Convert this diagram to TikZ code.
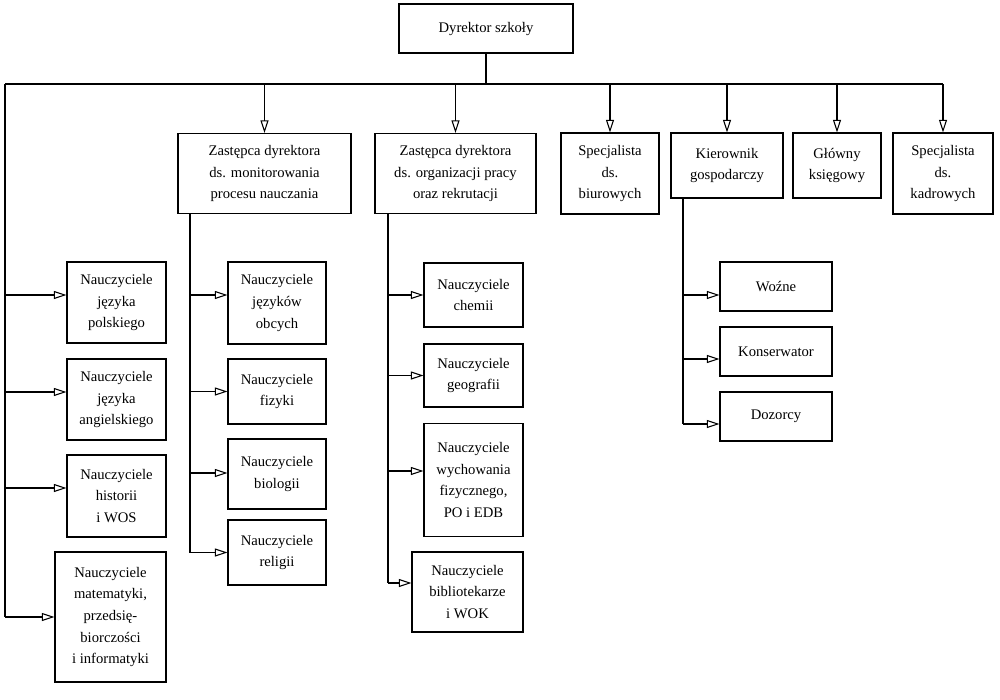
\documentclass[tikz,border=0pt]{standalone}
\usepackage{fontspec}
\setmainfont{Liberation Serif}
\usetikzlibrary{arrows.meta}

\begin{document}
\begin{tikzpicture}[x=0.03cm,y=-0.03cm,
	box/.style={draw, line width=0.9pt, align=center, inner sep=2pt,
		font=\fontsize{12.5}{18.5}\selectfont},
	arr/.style={-{Triangle[open,length=0.38cm,width=0.24cm]}, line width=0.9pt},
	ln/.style={line width=0.9pt}]
	  \useasboundingbox (0,0) rectangle (1000,700);

	  \node[box, minimum width=5.22cm, minimum height=1.47cm] (dyr) at (486,28.5) {Dyrektor szkoły};

	  \node[box, minimum width=5.19cm, minimum height=2.4cm] (z1) at (264.5,173.5) {Zastępca dyrektora\\ds. monitorowania\\procesu nauczania};
	  \node[box, minimum width=4.83cm, minimum height=2.4cm] (z2) at (455.5,173.5) {Zastępca dyrektora\\ds. organizacji pracy\\oraz rekrutacji};
	  \node[box, minimum width=2.94cm, minimum height=2.43cm] (sb) at (610,173.5) {Specjalista\\ds.\\biurowych};
	  \node[box, minimum width=3.36cm, minimum height=1.95cm] (kg) at (727,165.5) {Kierownik\\gospodarczy};
	  \node[box, minimum width=2.64cm, minimum height=1.95cm] (gk) at (837,165.5) {Główny\\księgowy};
	  \node[box, minimum width=3.0cm, minimum height=2.43cm] (sk) at (943,173.5) {Specjalista\\ds.\\kadrowych};

	  \node[box, minimum width=2.97cm, minimum height=2.43cm] (pol) at (116.5,302.5) {Nauczyciele\\języka\\polskiego};
	  \node[box, minimum width=2.97cm, minimum height=2.43cm] (ang) at (116.5,399.5) {Nauczyciele\\języka\\angielskiego};
	  \node[box, minimum width=2.97cm, minimum height=2.46cm] (his) at (116.5,496) {Nauczyciele\\historii\\i WOS};
	  \node[box, minimum width=3.33cm, minimum height=3.9cm] (mat) at (110.5,617) {Nauczyciele\\matematyki,\\przedsię-\\biorczości\\i informatyki};

	  \node[box, minimum width=2.94cm, minimum height=2.46cm] (obc) at (277,303) {Nauczyciele\\języków\\obcych};
	  \node[box, minimum width=2.94cm, minimum height=1.95cm] (fiz) at (277,391.5) {Nauczyciele\\fizyki};
	  \node[box, minimum width=2.94cm, minimum height=2.1cm] (bio) at (277,474) {Nauczyciele\\biologii};
	  \node[box, minimum width=2.94cm, minimum height=1.95cm] (rel) at (277,552.5) {Nauczyciele\\religii};

	  \node[box, minimum width=2.97cm, minimum height=1.92cm] (che) at (473.5,295) {Nauczyciele\\chemii};
	  \node[box, minimum width=2.97cm, minimum height=1.89cm] (geo) at (473.5,375.5) {Nauczyciele\\geografii};
	  \node[box, minimum width=2.97cm, minimum height=3.39cm] (wf) at (473.5,480) {Nauczyciele\\wychowania\\fizycznego,\\PO i EDB};
	  \node[box, minimum width=3.33cm, minimum height=2.4cm] (bib) at (467.5,592) {Nauczyciele\\bibliotekarze\\i WOK};

	  \node[box, minimum width=3.36cm, minimum height=1.47cm] (woz) at (776,286.5) {Woźne};
	  \node[box, minimum width=3.36cm, minimum height=1.47cm] (kon) at (776,351.5) {Konserwator};
	  \node[box, minimum width=3.36cm, minimum height=1.47cm] (doz) at (776,416.5) {Dozorcy};

	  \coordinate (busL) at (5,84);
	  \coordinate (busR) at (943,84);
	  \coordinate (t1) at (190,0);
	  \coordinate (t2) at (388,0);
	  \coordinate (t3) at (683,0);

	  \draw[ln] (dyr.south) -- (dyr.south |- busL);
	  \draw[ln] (busL) -- (busR);
	  \draw[ln] (busL) -- (busL |- mat);
	  \foreach \n in {z1,z2,sb,kg,gk,sk} \draw[arr] (busL -| \n.north) -- (\n.north);
	  \foreach \n/\d in {pol/7.5,ang/7.5,his/8,mat/0}
	    \draw[arr] ([yshift=\d*0.03cm]busL |- \n) -- ([yshift=\d*0.03cm]\n.west);

	  \draw[ln] (z1.south -| t1) -- (t1 |- rel);
	  \foreach \n/\d in {obc/8,fiz/0,bio/1,rel/0}
	    \draw[arr] ([yshift=\d*0.03cm]t1 |- \n) -- ([yshift=\d*0.03cm]\n.west);

	  \draw[ln] (z2.south -| t2) -- ([yshift=9*0.03cm]t2 |- bib);
	  \foreach \n/\d in {che/0,geo/0,wf/9,bib/9}
	    \draw[arr] ([yshift=\d*0.03cm]t2 |- \n) -- ([yshift=\d*0.03cm]\n.west);

	  \draw[ln] (kg.south -| t3) -- ([yshift=-7.5*0.03cm]t3 |- doz);
	  \foreach \n/\d in {woz/-8.5,kon/-7.5,doz/-7.5}
	    \draw[arr] ([yshift=\d*0.03cm]t3 |- \n) -- ([yshift=\d*0.03cm]\n.west);

\end{tikzpicture}
\end{document}
